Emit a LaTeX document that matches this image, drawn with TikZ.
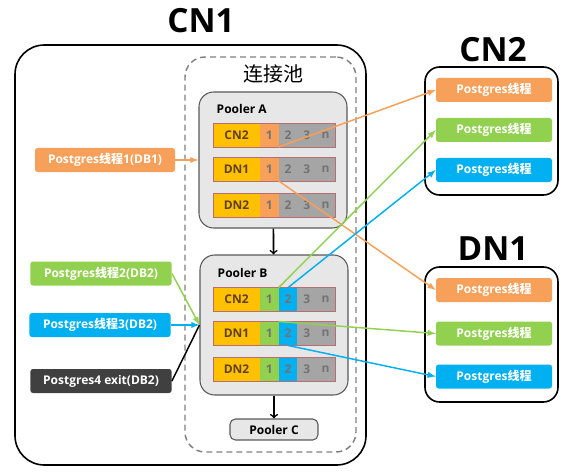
\documentclass[tikz,border=0pt]{standalone}
\usepackage{fontspec}
\setmainfont{Open Sans}
\newfontfamily\cjk{Noto Sans CJK SC}
\newcommand{\zh}[1]{{\cjk #1}}
\usepackage{tikz}
\usetikzlibrary{positioning,arrows}
\definecolor{pgorange}{HTML}{F7A05A}
\definecolor{pggreen}{HTML}{92D050}
\definecolor{pgblue}{HTML}{00B0F0}
\definecolor{pgdark}{HTML}{404040}
\definecolor{gold}{HTML}{FFC000}
\definecolor{slotgray}{HTML}{A5A5A5}
\definecolor{rowred}{HTML}{B86E6E}
\definecolor{poolfill}{HTML}{E8E7E7}
\definecolor{poolgray}{HTML}{595959}
\tikzset{every picture/.append style={x=0.75pt,y=-0.75pt}}
\tikzset{bigtitle/.style={font=\bfseries\fontsize{25}{28}\selectfont, anchor=base}}
\tikzset{host/.style={draw=black, line width=1.2pt, rounded corners=#1}}
\tikzset{host/.default=11pt}
\tikzset{pooler/.style={draw=poolgray, fill=poolfill, line width=0.8pt, rounded corners=11pt}}
\tikzset{pg/.style={fill=#1, rounded corners=2pt, text=white, inner sep=0pt, minimum height=18pt, font=\bfseries\fontsize{9}{10}\selectfont}}
\tikzset{slot/.style={fill=#1, minimum width=14.06pt, minimum height=18pt, inner sep=0pt, outer sep=0pt, text=black!55, font=\bfseries\fontsize{9}{10}\selectfont}}
\tikzset{slotlbl/.style={slot=gold, minimum width=35.25pt, text=black!50!brown}}
\tikzset{rowedge/.style={draw=rowred, line width=0.6pt}}
\tikzset{thread/.style={line width=1.1pt, draw=#1, -latex}}
\tikzset{thread/.default=black}

\begin{document}
\begin{tikzpicture}
\useasboundingbox (0,0) rectangle (574,474);

% CN1 with the pool
\node[bigtitle] (t1) at (201,33) {CN1};
\node[host=22pt, minimum width=263.25pt, minimum height=315pt] (cn1) at (190.5,255) {};
\node[draw=black!50, line width=1.1pt, dash pattern=on 4.5pt off 3pt, rounded corners=15pt,
      minimum width=128.25pt, minimum height=296.25pt] (pool) at (270.5,254.5) {};
\node[font=\cjk\fontsize{15}{17}\selectfont] (tpool) at (273,74) {连接池};

\node[pooler, minimum width=111pt, minimum height=102pt] (pa) at (273,160) {};
\node[anchor=west, font=\bfseries\fontsize{9}{10}\selectfont] (ta) at (212,109) {Pooler A};
\node[pooler, minimum width=111pt, minimum height=105pt] (pb) at (274,325) {};
\node[anchor=west, font=\bfseries\fontsize{9}{10}\selectfont] (tb) at (213,273) {Pooler B};
\node[pooler, rounded corners=4pt, minimum width=66pt, minimum height=15.75pt,
      font=\bfseries\fontsize{9}{10}\selectfont] (pc) at (274,429.5) {Pooler C};

% connection rows
\foreach \r/\y/\t/\ca/\cb in {acn2/135/CN2/pgorange/slotgray, adn1/169/DN1/pgorange/slotgray,
    adn2/205/DN2/pgorange/slotgray, bcn2/299.5/CN2/pggreen/pgblue,
    bdn1/333.5/DN1/pggreen/pgblue, bdn2/369/DN2/pggreen/pgblue}{
  \node[slotlbl] (\r-0) at (236.5,\y) {\t};
  \node[slot=\ca, right=0pt of \r-0] (\r-1) {1};
  \node[slot=\cb, right=0pt of \r-1] (\r-2) {2};
  \node[slot=slotgray, right=0pt of \r-2] (\r-3) {3};
  \node[slot=slotgray, right=0pt of \r-3] (\r-4) {n};
  \draw[rowedge] (\r-0.north west) rectangle (\r-4.south east);
}

\draw[line width=1.2pt, ->] (pa) -- (pb);
\draw[line width=1.2pt, ->] (pb) -- (pc);

% backends
\node[pg=pgorange, minimum width=105pt] (p1) at (105,160) {Postgres\zh{线程}1(DB1)};
\node[pg=pggreen, minimum width=106pt] (p2) at (101,273.5) {Postgres\zh{线程}2(DB2)};
\node[pg=pgblue, minimum width=106pt] (p3) at (100,325) {Postgres\zh{线程}3(DB2)};
\node[pg=pgdark, minimum width=106pt] (p4) at (101,381) {Postgres4 exit(DB2)};

% CN2 and DN1
\node[bigtitle] (t2) at (493,62) {CN2};
\node[host, minimum width=99.75pt, minimum height=96pt] (cn2) at (491.5,131) {};
\node[pg=pgorange, minimum width=87pt] (cn2o) at (494,90) {Postgres\zh{线程}};
\node[pg=pggreen, minimum width=87pt] (cn2g) at (494,130) {Postgres\zh{线程}};
\node[pg=pgblue, minimum width=87pt] (cn2b) at (494,170) {Postgres\zh{线程}};

\node[bigtitle] (t3) at (493,260) {DN1};
\node[host, minimum width=99.75pt, minimum height=101.25pt] (dn1) at (491.5,334.5) {};
\node[pg=pgorange, minimum width=87pt] (dn1o) at (494,290) {Postgres\zh{线程}};
\node[pg=pggreen, minimum width=87pt] (dn1g) at (494,333.5) {Postgres\zh{线程}};
\node[pg=pgblue, minimum width=87pt] (dn1b) at (494,376.5) {Postgres\zh{线程}};

%links
\draw[thread=pgorange] (p1) -- (pa);
\draw[thread=pggreen] (p2.east) -- (pb.west);
\draw[thread=pgblue] (p3.east) -- (pb.west);
\draw[line width=1.1pt] (p4.east) -- (pb.west);

\draw[thread=pgorange] (acn2-1.south east) -- (cn2o.west);
\draw[thread=pgorange] (adn1-1.south east) -- (dn1o.west);
\draw[thread=pggreen] (bcn2-1.north east) -- (cn2g.west);
\draw[thread=pgblue] (bcn2-2.north) -- (cn2b.west);
\draw[thread=pggreen] (bdn1-1.north east) -- (dn1g.west);
\draw[thread=pgblue] (bdn1-2.south) -- (dn1b.west);
\end{tikzpicture}
\end{document}
